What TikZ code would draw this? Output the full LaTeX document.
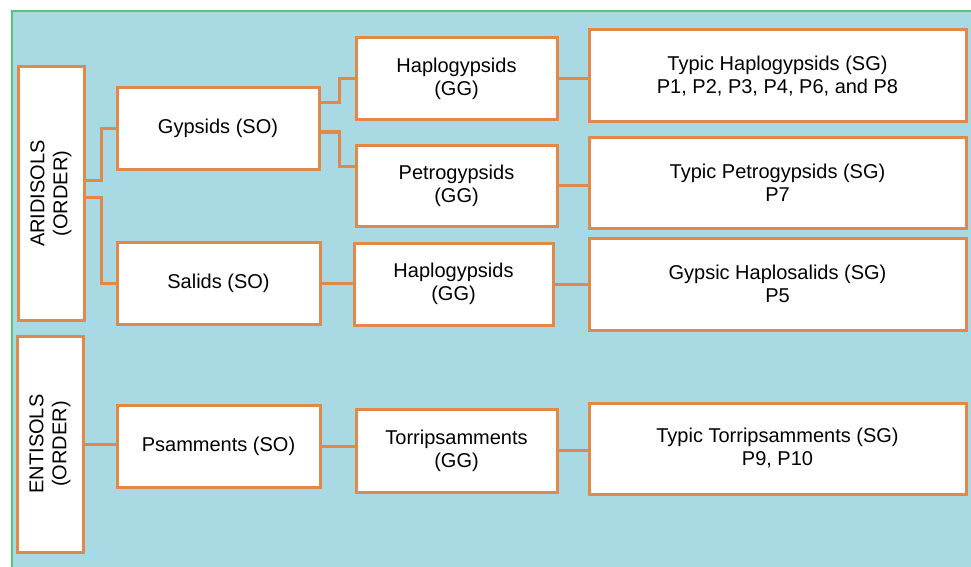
\documentclass[tikz,border=0pt]{standalone}
\usepackage{fontspec}
\setmainfont{Liberation Sans}
\definecolor{panelblue}{HTML}{A9D9E2}
\definecolor{panelgreen}{HTML}{5CBF7A}
\definecolor{linkorange}{HTML}{E0894A}
\tikzset{
  taxbox/.style={draw=linkorange, line width=3pt, fill=white, align=center,
    font=\fontsize{20}{23}\selectfont, inner sep=0pt},
  link/.style={draw=linkorange, line width=3pt}
}
\begin{document}
\begin{tikzpicture}[x=1pt,y=-1pt]
  \useasboundingbox (0,0) rectangle (971,567);
  \fill [panelblue] (12,11) rectangle (971,567);
  \draw [panelgreen, line width=1.5pt] (12,567) -- (12,11) -- (971,11);
  % orders
  \node [taxbox, minimum width=253pt, minimum height=66pt, rotate=90] (arid) at (51,193.5) {ARIDISOLS\\(ORDER)};
  \node [taxbox, minimum width=216pt, minimum height=66pt, rotate=90] (enti) at (50,444) {ENTISOLS\\(ORDER)};
  % suborders
  \node [taxbox, minimum width=202pt, minimum height=81pt] (gyp) at (218,128.5) {Gypsids (SO)};
  \node [taxbox, minimum width=203pt, minimum height=82pt] (sal) at (218.5,283) {Salids (SO)};
  \node [taxbox, minimum width=203pt, minimum height=82pt] (psa) at (218.5,446) {Psamments (SO)};
  % great groups
  \node [taxbox, minimum width=201pt, minimum height=82pt] (hapA) at (456.5,79) {Haplogypsids\\(GG)};
  \node [taxbox, minimum width=201pt, minimum height=81pt] (pet) at (456.5,185.5) {Petrogypsids\\(GG)};
  \node [taxbox, minimum width=199pt, minimum height=82pt] (hapB) at (453.5,284) {Haplogypsids\\(GG)};
  \node [taxbox, minimum width=201pt, minimum height=83pt] (tor) at (456.5,450.5) {Torripsamments\\(GG)};
  % subgroups
  \node [taxbox, minimum width=377pt, minimum height=92pt] (thap) at (777.5,76) {Typic Haplogypsids (SG)\\P1, P2, P3, P4, P6, and P8};
  \node [taxbox, minimum width=377pt, minimum height=91pt] (tpet) at (777.5,182.5) {Typic Petrogypsids (SG)\\P7};
  \node [taxbox, minimum width=377pt, minimum height=92pt] (ghap) at (777.5,284) {Gypsic Haplosalids (SG)\\P5};
  \node [taxbox, minimum width=377pt, minimum height=91pt] (ttor) at (777.5,448.5) {Typic Torripsamments (SG)\\P9, P10};
  % connectors
  \draw [link] ([yshift=13.5pt]arid.south) -- ++(16,0) |- (gyp.west);
  \draw [link] ([yshift=-3.5pt]arid.south) -- ++(16,0) |- (sal.west);
  \draw [link] (enti.south) -- (enti.south -| psa.west);
  \draw [link] ([yshift=25.5pt]gyp.east) -- ++(19,0) |- (hapA.west);
  \draw [link] ([yshift=-3.5pt]gyp.east) -- ++(19,0) |- ([yshift=19.5pt]pet.west);
  \draw [link] (sal.east) -- (sal.east -| hapB.west);
  \draw [link] (psa.east) -- (psa.east -| tor.west);
  \draw [link] (hapA.east) -- (hapA.east -| thap.west);
  \draw [link] (pet.east) -- (pet.east -| tpet.west);
  \draw [link] (hapB.east) -- (hapB.east -| ghap.west);
  \draw [link] (tor.east) -- (tor.east -| ttor.west);
\end{tikzpicture}
\end{document}
